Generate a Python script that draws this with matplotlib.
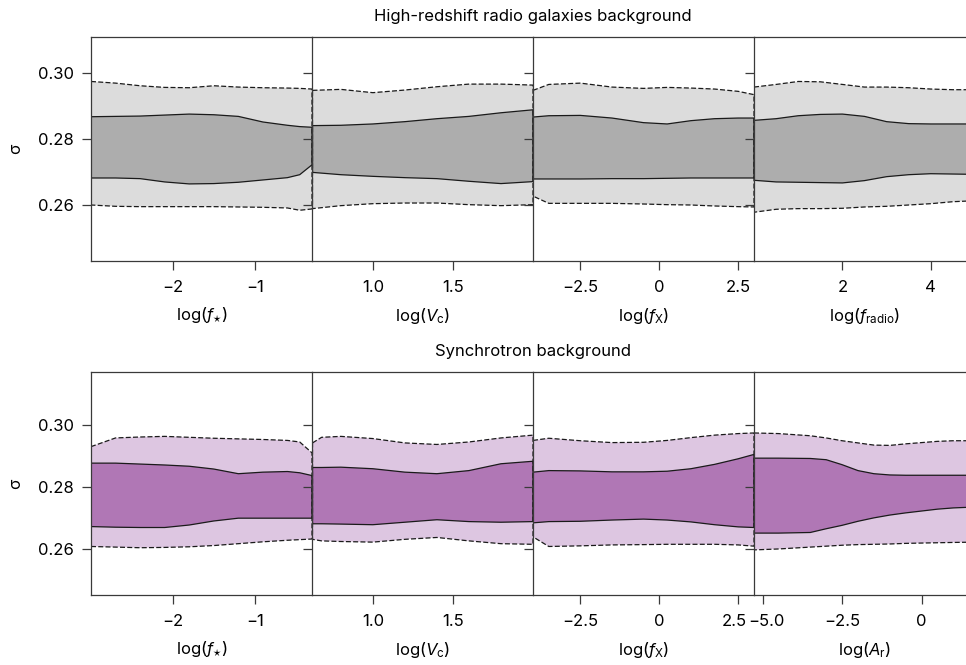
import matplotlib
matplotlib.use("Agg")
import matplotlib.pyplot as plt
import matplotlib.transforms as mtransforms
from matplotlib.ticker import FixedLocator, FixedFormatter

plt.rcParams["font.family"] = ["Inter", "DejaVu Sans"]
plt.rcParams["mathtext.fontset"] = "custom"
plt.rcParams["mathtext.rm"] = "Inter"
plt.rcParams["mathtext.it"] = "Inter:italic"
plt.rcParams["font.size"] = 12

# ---- high-redshift radio galaxies background: sigma contours (2-sigma / 1-sigma edges)
hz_fstar_x = [-3.0, -2.7, -2.4, -2.1, -1.8, -1.5, -1.2, -0.9, -0.6, -0.45, -0.3]
hz_fstar_2hi = [0.2975, 0.2970, 0.2962, 0.2957, 0.2956, 0.2962, 0.2958, 0.2956, 0.2955, 0.2954, 0.2952]
hz_fstar_1hi = [0.2868, 0.2869, 0.2870, 0.2873, 0.2876, 0.2874, 0.2869, 0.2852, 0.2842, 0.2838, 0.2836]
hz_fstar_1lo = [0.2682, 0.2682, 0.2680, 0.2670, 0.2664, 0.2665, 0.2669, 0.2676, 0.2683, 0.2692, 0.2722]
hz_fstar_2lo = [0.2600, 0.2596, 0.2595, 0.2595, 0.2595, 0.2595, 0.2594, 0.2593, 0.2591, 0.2584, 0.2588]

hz_vc_x = [0.623, 0.8, 1.0, 1.2, 1.4, 1.6, 1.8, 2.0]
hz_vc_2hi = [0.2948, 0.2951, 0.2941, 0.2949, 0.2959, 0.2967, 0.2967, 0.2964]
hz_vc_1hi = [0.2841, 0.2842, 0.2846, 0.2853, 0.2862, 0.2869, 0.2880, 0.2889]
hz_vc_1lo = [0.2699, 0.2692, 0.2687, 0.2683, 0.2680, 0.2672, 0.2665, 0.2671]
hz_vc_2lo = [0.2589, 0.2598, 0.2604, 0.2606, 0.2606, 0.2601, 0.2598, 0.2601]

hz_fx_x = [-4.0, -3.5, -2.5, -1.5, -0.5, 0.25, 1.0, 1.75, 2.5, 3.0]
hz_fx_2hi = [0.2948, 0.2966, 0.2970, 0.2958, 0.2954, 0.2957, 0.2955, 0.2952, 0.2945, 0.2935]
hz_fx_1hi = [0.2867, 0.2871, 0.2872, 0.2864, 0.2850, 0.2846, 0.2856, 0.2862, 0.2864, 0.2864]
hz_fx_1lo = [0.2679, 0.2679, 0.2679, 0.2680, 0.2680, 0.2681, 0.2682, 0.2682, 0.2682, 0.2682]
hz_fx_2lo = [0.2627, 0.2605, 0.2605, 0.2605, 0.2603, 0.2601, 0.2600, 0.2597, 0.2595, 0.2594]

hz_frad_x = [0.0, 0.5, 1.0, 1.5, 2.0, 2.5, 3.0, 3.5, 4.0, 4.5, 5.0]
hz_frad_2hi = [0.2958, 0.2966, 0.2975, 0.2974, 0.2966, 0.2958, 0.2958, 0.2956, 0.2952, 0.2950, 0.2950]
hz_frad_1hi = [0.2857, 0.2862, 0.2871, 0.2875, 0.2876, 0.2869, 0.2853, 0.2847, 0.2846, 0.2846, 0.2846]
hz_frad_1lo = [0.2675, 0.2670, 0.2669, 0.2668, 0.2667, 0.2674, 0.2686, 0.2692, 0.2695, 0.2694, 0.2693]
hz_frad_2lo = [0.2578, 0.2587, 0.2589, 0.2589, 0.2590, 0.2594, 0.2596, 0.2600, 0.2604, 0.2610, 0.2613]

# ---- synchrotron background
sy_fstar_x = [-3.0, -2.7, -2.4, -2.1, -1.8, -1.5, -1.2, -0.9, -0.6, -0.45, -0.3]
sy_fstar_2hi = [0.2930, 0.2958, 0.2961, 0.2963, 0.2960, 0.2957, 0.2955, 0.2953, 0.2950, 0.2945, 0.2910]
sy_fstar_1hi = [0.2877, 0.2877, 0.2874, 0.2871, 0.2867, 0.2858, 0.2843, 0.2848, 0.2850, 0.2846, 0.2837]
sy_fstar_1lo = [0.2673, 0.2671, 0.2670, 0.2670, 0.2678, 0.2691, 0.2700, 0.2700, 0.2700, 0.2700, 0.2700]
sy_fstar_2lo = [0.2609, 0.2607, 0.2605, 0.2606, 0.2608, 0.2612, 0.2618, 0.2624, 0.2629, 0.2631, 0.2633]

sy_vc_x = [0.623, 0.68, 0.8, 1.0, 1.2, 1.4, 1.6, 1.8, 2.0]
sy_vc_2hi = [0.2942, 0.2960, 0.2963, 0.2956, 0.2942, 0.2937, 0.2945, 0.2958, 0.2967]
sy_vc_1hi = [0.2863, 0.2863, 0.2864, 0.2859, 0.2848, 0.2843, 0.2853, 0.2875, 0.2883]
sy_vc_1lo = [0.2682, 0.2682, 0.2681, 0.2679, 0.2687, 0.2695, 0.2689, 0.2687, 0.2689]
sy_vc_2lo = [0.2632, 0.2627, 0.2625, 0.2623, 0.2632, 0.2638, 0.2627, 0.2618, 0.2616]

sy_fx_x = [-4.0, -3.5, -2.5, -1.5, -0.5, 0.25, 1.0, 1.75, 2.5, 3.0]
sy_fx_2hi = [0.2950, 0.2957, 0.2949, 0.2943, 0.2944, 0.2950, 0.2959, 0.2967, 0.2972, 0.2974]
sy_fx_1hi = [0.2848, 0.2853, 0.2852, 0.2849, 0.2849, 0.2851, 0.2859, 0.2873, 0.2891, 0.2905]
sy_fx_1lo = [0.2685, 0.2689, 0.2690, 0.2694, 0.2697, 0.2694, 0.2688, 0.2679, 0.2672, 0.2670]
sy_fx_2lo = [0.2640, 0.2609, 0.2611, 0.2614, 0.2615, 0.2616, 0.2616, 0.2616, 0.2614, 0.2610]

sy_ar_x = [-5.27, -4.5, -3.5, -3.0, -2.5, -2.0, -1.5, -1.0, -0.5, 0.0, 0.5, 1.0, 1.7]
sy_ar_2hi = [0.2974, 0.2972, 0.2965, 0.2958, 0.2949, 0.2942, 0.2935, 0.2934, 0.2939, 0.2943, 0.2947, 0.2949, 0.2949]
sy_ar_1hi = [0.2893, 0.2893, 0.2892, 0.2888, 0.2872, 0.2853, 0.2843, 0.2839, 0.2838, 0.2838, 0.2838, 0.2838, 0.2838]
sy_ar_1lo = [0.2652, 0.2652, 0.2654, 0.2666, 0.2677, 0.2690, 0.2701, 0.2710, 0.2717, 0.2723, 0.2729, 0.2733, 0.2736]
sy_ar_2lo = [0.2598, 0.2601, 0.2607, 0.2610, 0.2613, 0.2615, 0.2616, 0.2617, 0.2619, 0.2620, 0.2621, 0.2622, 0.2623]

# axis ranges and tick labels per panel
fstar_lim, vc_lim, fx_lim = (-3.0, -0.3), (0.62, 2.0), (-4.0, 3.0)
frad_lim, ar_lim = (0.0, 5.0), (-5.27, 1.68)
fstar_ticks, fstar_labels = [-2, -1], ["\u22122", "\u22121"]
vc_ticks, vc_labels = [1.0, 1.5], ["1.0", "1.5"]
fx_ticks, fx_labels = [-2.5, 0, 2.5], ["\u22122.5", "0", "2.5"]
frad_ticks, frad_labels = [2, 4], ["2", "4"]
ar_ticks, ar_labels = [-5.0, -2.5, 0], ["\u22125.0", "\u22122.5", "0"]
sigma_ticks, sigma_labels = [0.26, 0.28, 0.30], ["0.26", "0.28", "0.30"]

lab_fstar = r"log($f_{\star}$)"
lab_vc = r"log($V_{\mathrm{c}}$)"
lab_fx = r"log($f_{\mathrm{X}}$)"
lab_frad = r"log($f_{\mathrm{radio}}$)"
lab_ar = r"log($A_{\mathrm{r}}$)"

top_panels = [
    (hz_fstar_x, hz_fstar_2hi, hz_fstar_1hi, hz_fstar_1lo, hz_fstar_2lo, fstar_lim, fstar_ticks, fstar_labels, lab_fstar),
    (hz_vc_x, hz_vc_2hi, hz_vc_1hi, hz_vc_1lo, hz_vc_2lo, vc_lim, vc_ticks, vc_labels, lab_vc),
    (hz_fx_x, hz_fx_2hi, hz_fx_1hi, hz_fx_1lo, hz_fx_2lo, fx_lim, fx_ticks, fx_labels, lab_fx),
    (hz_frad_x, hz_frad_2hi, hz_frad_1hi, hz_frad_1lo, hz_frad_2lo, frad_lim, frad_ticks, frad_labels, lab_frad),
]
bottom_panels = [
    (sy_fstar_x, sy_fstar_2hi, sy_fstar_1hi, sy_fstar_1lo, sy_fstar_2lo, fstar_lim, fstar_ticks, fstar_labels, lab_fstar),
    (sy_vc_x, sy_vc_2hi, sy_vc_1hi, sy_vc_1lo, sy_vc_2lo, vc_lim, vc_ticks, vc_labels, lab_vc),
    (sy_fx_x, sy_fx_2hi, sy_fx_1hi, sy_fx_1lo, sy_fx_2lo, fx_lim, fx_ticks, fx_labels, lab_fx),
    (sy_ar_x, sy_ar_2hi, sy_ar_1hi, sy_ar_1lo, sy_ar_2lo, ar_lim, ar_ticks, ar_labels, lab_ar),
]

W, H = 966, 665
fig = plt.figure(figsize=(W / 100, H / 100), dpi=100)

line_col = "#1a1a1a"
spine_col = "#3a3a3a"


def loop(x, hi, lo):
    xs = list(x) + list(x[::-1]) + [x[0]]
    ys = list(hi) + list(lo[::-1]) + [hi[0]]
    return xs, ys


def shift_label(label, dx_pt):
    off = mtransforms.ScaledTranslation(dx_pt / 72, 0, fig.dpi_scale_trans)
    label.set_transform(label.get_transform() + off)


def draw_row(panels, top_px, bottom_px, ylim, dark, light, title):
    left_px, width_px = 91, 221
    axes = []
    for i, (x, h2, h1, l1, l2, xlim, ticks, labels, xlabel) in enumerate(panels):
        ax = fig.add_axes([(left_px + i * width_px) / W, 1 - bottom_px / H,
                           width_px / W, (bottom_px - top_px) / H])
        ox, oy = loop(x, h2, l2)
        ix, iy = loop(x, h1, l1)
        ax.fill(ox, oy, color=light, lw=0)
        ax.fill(ix, iy, color=dark, lw=0)
        ax.plot(ox, oy, color=line_col, lw=0.9, ls=(0, (4, 1.8)))
        ax.plot(ix, iy, color=line_col, lw=0.9)
        ax.set_xlim(*xlim)
        ax.set_ylim(*ylim)
        ax.xaxis.set_major_locator(FixedLocator(ticks))
        ax.xaxis.set_major_formatter(FixedFormatter(labels))
        ax.yaxis.set_major_locator(FixedLocator(sigma_ticks))
        ax.yaxis.set_major_formatter(FixedFormatter(sigma_labels))
        ax.tick_params(direction="out", length=6.5, width=0.9, color=spine_col,
                       pad=6, labelsize=12)
        ax.tick_params(axis="x", pad=7.5)
        ax.tick_params(axis="y", labelleft=(i == 0))
        ax.set_xlabel(xlabel, fontsize=12, labelpad=7.5)
        ax.spines["right"].set_visible(False)
        for s in ("left", "top", "bottom"):
            ax.spines[s].set_color(spine_col)
            ax.spines[s].set_linewidth(0.9)
        axes.append(ax)
    fig.text(533 / W, 1 - (top_px - 20) / H, title, ha="center", va="center", fontsize=12)
    fig.text(16 / W, 1 - (top_px + bottom_px) / 2 / H, "\u03c3", rotation=90,
             ha="center", va="center", fontsize=12)
    return axes


draw_row(top_panels, 37, 261, (0.243, 0.311), "#adadad", "#dcdcdc",
         "High-redshift radio galaxies background")
bottom_axes = draw_row(bottom_panels, 372, 595, (0.2453, 0.317), "#b077b5", "#ddc6e1",
                       "Synchrotron background")

# the last f_X label and the first A_r label sit close together; nudge them apart
shift_label(bottom_axes[2].xaxis.get_major_ticks()[-1].label1, -3)
shift_label(bottom_axes[3].xaxis.get_major_ticks()[0].label1, 3)

fig.savefig("out.png", dpi=100)
